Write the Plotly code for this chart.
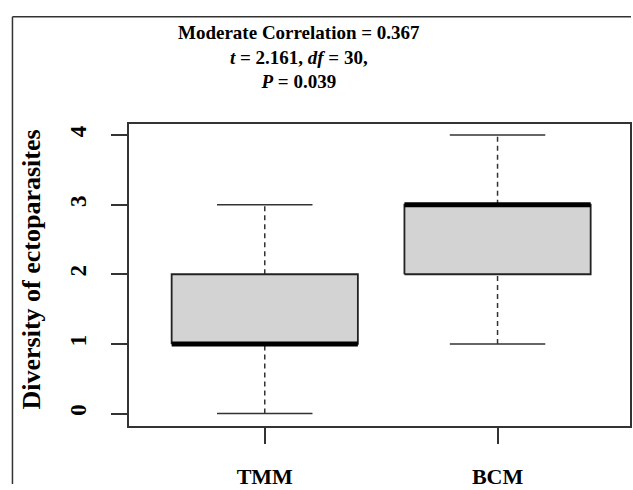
import plotly.graph_objects as go

categories = ["TMM", "BCM"]
mins = [0, 1]
q1s = [1, 2]
medians = [1, 3]
q3s = [2, 3]
maxs = [3, 4]
y_ticks = [0, 1, 2, 3, 4]

FONT = "Liberation Serif"
LC = "#333333"

fig = go.Figure()
box_half = 0.4
cap_half = 0.205
for i, cat in enumerate(categories):
    x = i + 1
    # whiskers (dashed)
    fig.add_trace(go.Scatter(x=[x, x], y=[q3s[i], maxs[i]], mode="lines",
                             line=dict(color=LC, width=1.5, dash="5px,4px"), hoverinfo="skip"))
    fig.add_trace(go.Scatter(x=[x, x], y=[mins[i], q1s[i]], mode="lines",
                             line=dict(color=LC, width=1.5, dash="5px,4px"), hoverinfo="skip"))
    # caps
    for v in (mins[i], maxs[i]):
        fig.add_trace(go.Scatter(x=[x - cap_half, x + cap_half], y=[v, v], mode="lines",
                                 line=dict(color=LC, width=1.5), hoverinfo="skip"))
    # box
    fig.add_trace(go.Scatter(
        x=[x - box_half, x + box_half, x + box_half, x - box_half, x - box_half],
        y=[q1s[i], q1s[i], q3s[i], q3s[i], q1s[i]],
        mode="lines", fill="toself", fillcolor="#d3d3d3",
        line=dict(color="#222222", width=1.8), hoverinfo="skip"))
    # median
    fig.add_trace(go.Scatter(x=[x - box_half, x + box_half], y=[medians[i], medians[i]],
                             mode="lines", line=dict(color="black", width=5), hoverinfo="skip"))

W, H = 633, 490
L, R, T, B = 129, 1, 124, 59
pw, ph = W - L - R, H - T - B

def px_x(p):
    return (p - L) / pw

def px_y(p):
    return (H - B - p) / ph

fig.update_layout(
    width=W, height=H,
    margin=dict(l=L, r=R, t=T, b=B),
    paper_bgcolor="white", plot_bgcolor="white",
    showlegend=False,
    font=dict(family=FONT, color="black"),
    xaxis=dict(range=[0.4168, 2.569], tickvals=[1, 2], ticktext=[f"<b>{c}</b>" for c in categories],
               showgrid=False, zeroline=False, showline=True, mirror=True,
               linecolor=LC, linewidth=1.5, ticks="outside", ticklen=16, tickwidth=1.5,
               tickcolor=LC, tickfont=dict(size=22, family=FONT), ticklabelstandoff=14),
    yaxis=dict(range=[-0.179, 4.158], tickvals=y_ticks, ticktext=[f"<b>{v}</b>" for v in y_ticks],
               showgrid=False, zeroline=False, showline=True, mirror=True,
               linecolor=LC, linewidth=1.5, ticks="outside", ticklen=16, tickwidth=1.5,
               tickcolor=LC, tickangle=-90, tickfont=dict(size=23, family=FONT),
               ticklabelstandoff=16),
    annotations=[
        dict(text="<b>Moderate Correlation = 0.367<br><i>t</i> = 2.161, <i>df</i> = 30,<br><i>P</i> = 0.039</b>",
             xref="paper", yref="paper", x=px_x(300), y=px_y(18), xanchor="center", yanchor="top",
             showarrow=False, font=dict(size=19, family=FONT)),
        dict(text="<b>Diversity of ectoparasites</b>", textangle=-90,
             xref="paper", yref="paper", x=px_x(31), y=px_y(271.5), xanchor="center", yanchor="middle",
             showarrow=False, font=dict(size=26, family=FONT)),
    ],
    shapes=[
        dict(type="line", xref="paper", yref="paper", x0=px_x(12), x1=px_x(12), y0=px_y(15), y1=px_y(490),
             line=dict(color=LC, width=1.5)),
        dict(type="line", xref="paper", yref="paper", x0=px_x(12), x1=px_x(633), y0=px_y(15), y1=px_y(15),
             line=dict(color=LC, width=1.5)),
    ],
)

fig.write_html("out.html", config={"displayModeBar": False},
               post_script="document.body.style.margin='0';")
